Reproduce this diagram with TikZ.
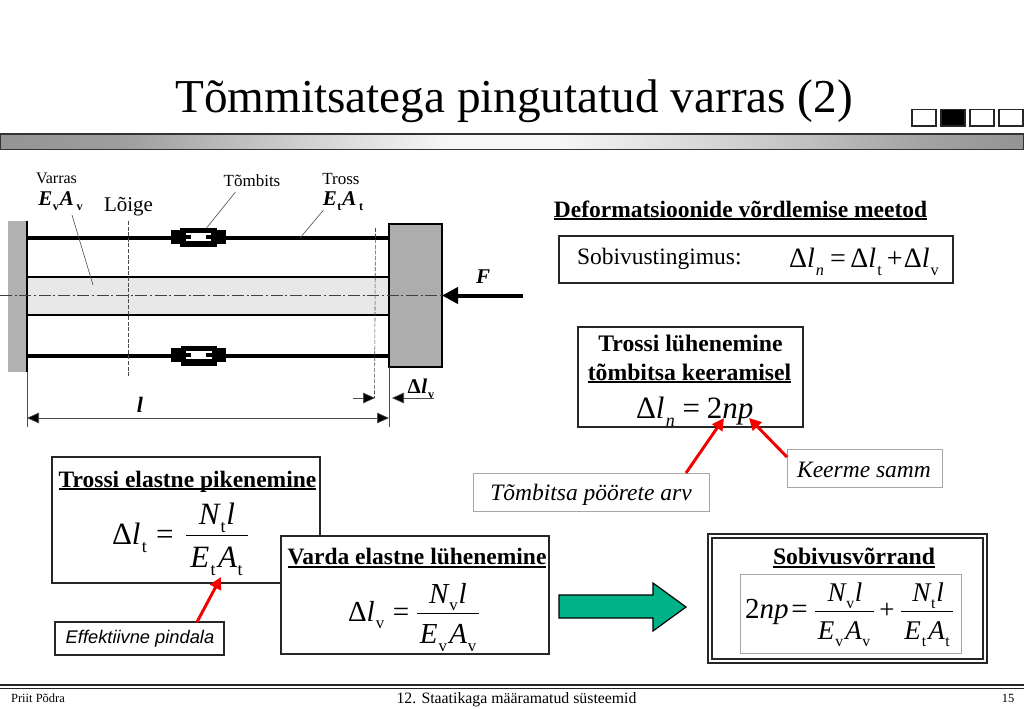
\documentclass[tikz,border=0pt]{standalone}
\usepackage{fontspec}
\usepackage{graphicx}
\setmainfont{Liberation Serif}
\newfontfamily\sansf{Liberation Sans}
\usetikzlibrary{arrows.meta,shapes.geometric}
\newcommand\px[1]{\fontsize{\fpeval{#1*.75}pt}{\fpeval{#1*.9}pt}\selectfont}
\newcommand\bx[6]{\node[#1,minimum width=\fpeval{(#4-#2)*.75}pt,minimum height=\fpeval{(#5-#3)*.75}pt] (#6) at (\fpeval{(#2+#4)/2},\fpeval{(#3+#5)/2}) {};}
\newcommand\sbs[1]{\raisebox{-.26em}{\scalebox{.58}{\upshape\mdseries #1}}}
\newcommand\bsbs[1]{\raisebox{-.26em}{\scalebox{.58}{\upshape\bfseries #1}}}
\newcommand\il[1]{{\itshape #1}}
\newsavebox\ulbox
\newcommand\ulx[1]{\leavevmode\sbox\ulbox{#1}\rlap{\rule[-.14em]{\wd\ulbox}{.09em}}\usebox\ulbox}
\definecolor{arrowgreen}{RGB}{0,178,135}
\pgfdeclarehorizontalshading{barshade}{100bp}{
  color(0bp)=(black!42); color(25bp)=(black!42); color(31bp)=(black!38);
  color(40bp)=(black!18); color(47bp)=(black!3); color(52bp)=(black!3);
  color(62bp)=(black!20); color(70bp)=(black!36); color(75bp)=(black!42); color(100bp)=(black!42)}
\tikzset{
  txt/.style={inner sep=0pt,outer sep=0pt,text=black,anchor=center},
  box/.style={draw=black!85,line width=1.1pt,fill=white,inner sep=0pt,outer sep=0pt,rectangle},
  lightbox/.style={draw=black!35,line width=.6pt,fill=white,inner sep=0pt,outer sep=0pt,rectangle},
  plain/.style={inner sep=0pt,outer sep=0pt,rectangle},
  rope/.style={line width=3pt,black},
  thin line/.style={line width=.45pt,black!70},
  centerline/.style={line width=.55pt,black!75,dash pattern=on 9pt off 2pt on 1.5pt off 2pt},
  dashline/.style={line width=.45pt,black!70,dash pattern=on 3pt off 1.2pt},
  dim/.style={line width=.45pt,black!70},
  redarrow/.style={draw=red!95!black,line width=2.2pt,-{Triangle[length=9pt,width=9pt,fill=red]}},
  rulef/.style={line width=.7pt,black},
}
\begin{document}
\begin{tikzpicture}[x=.75pt,y=-.75pt]
\useasboundingbox (0,0) rectangle (1024,709);
% title
\node[txt] (title) at (514,101) {\px{47.2}Tõmmitsatega pingutatud varras (2)};
\bx{plain,shading=barshade}{0}{134}{1024}{149.5}{bar}
\draw[line width=1.1pt,black!80] (bar.north west) rectangle (bar.south east);
\bx{box,line width=1pt}{912}{109.5}{936}{126}{nav1}
\bx{box,fill=black,line width=1pt}{941}{109.5}{965}{126}{nav2}
\bx{box,line width=1pt}{970}{109.5}{994}{126}{nav3}
\bx{box,line width=1pt}{999}{109.5}{1023}{126}{nav4}
% structure
\bx{plain,fill=black!30}{8}{221}{27}{372}{wall}
\bx{plain,fill=black!9}{27}{277}{389}{315}{rod}
\draw[line width=1.1pt] (rod.north west) -- (rod.north east);
\draw[line width=1.1pt] (rod.south west) -- (rod.south east);
\draw[line width=1.7pt] (wall.north east) -- (wall.south east);
\bx{box,fill=black!32,line width=1.7pt,draw=black}{389}{224}{442}{367}{block}
\coordinate (ropeT) at (27,238); \coordinate (ropeB) at (27,355.5);
\draw[rope] (ropeT) -- (block.west |- ropeT);
\draw[rope] (ropeB) -- (block.west |- ropeB);
% turnbuckles
\fill (171,230) rectangle (226,244.5);
\fill (180,228) rectangle (217,247);
\fill[white] (186,233) rectangle (211,241);
\fill (186,235) rectangle (191,239);
\fill (206,235) rectangle (211,239);
\fill (171,348) rectangle (226,362);
\fill (181,346) rectangle (217,366);
\fill[white] (186,351) rectangle (212,359);
\fill (186,353) rectangle (191,357);
\fill (206,353) rectangle (212,357);
% axis and dashed
\coordinate (axL) at (0,295.5);
\draw[centerline] (axL) -- (block.east |- axL);
\coordinate (cutT) at (128.5,221); \coordinate (cutB) at (128.5,376);
\draw[dashline] (cutT) -- (cutB);
\coordinate (defT) at (375.5,228); \coordinate (defB) at (374.5,398);
\draw[dashline] (defT) -- (defB);
% force
\coordinate (Ftail) at (523,295.5);
\draw[line width=3pt,-{Triangle[length=12pt,width=12pt]},black] (Ftail) -- (block.east |- Ftail);
\node[txt] (Flab) at (483,277) {\px{21}\bfseries\itshape F};
% dimensions
\coordinate (extL) at (27,427); \coordinate (extR) at (389,427);
\draw[dim] (wall.south east) -- (extL);
\draw[dim] (block.south west) -- (extR);
\coordinate (dL) at (27,418); \coordinate (dR) at (389,418);
\draw[dim,{Triangle[length=9pt,width=8pt,fill=black]}-{Triangle[length=9pt,width=8pt,fill=black]}] (dL) -- (dR);
\node[txt] (llab) at (140,405) {\px{22}\bfseries\itshape l};
\coordinate (d1a) at (353,398); \coordinate (d1b) at (375,398);
\draw[dim,-{Triangle[length=9pt,width=8pt,fill=black]}] (d1a) -- (d1b);
\coordinate (d2a) at (434,398); \coordinate (d2b) at (392,398);
\draw[dim,-{Triangle[length=9pt,width=8pt,fill=black]}] (d2a) -- (d2b);
\node[txt] (dlv) at (421,389) {\px{21}\bfseries Δ\kern.02em\il{l}\kern.05em\bsbs{v}};
% labels
\node[txt] (lvarras) at (56.5,178) {\px{16}Varras};
\node[txt] (lev) at (60.5,201) {\px{21}\bfseries\itshape E\kern.02em\bsbs{v}\kern.05em A\kern.12em\bsbs{v}};
\node[txt] (lloige) at (128.5,206.5) {\px{21}Lõige};
\node[txt] (ltomb) at (252,181) {\px{17}Tõmbits};
\node[txt] (ltross) at (341,179) {\px{17}Tross};
\node[txt] (let) at (343,201) {\px{21}\bfseries\itshape E\kern.02em\bsbs{t}\kern.05em A\kern.12em\bsbs{t}};
\coordinate (lv1) at (72,215); \coordinate (lv2) at (93,285);
\draw[thin line] (lv1) -- (lv2);
\coordinate (lt1) at (235.5,192); \coordinate (lt2) at (206.5,228);
\draw[thin line] (lt1) -- (lt2);
\coordinate (lr1) at (323.5,210); \coordinate (lr2) at (300,238);
\draw[thin line] (lr1) -- (lr2);
% right top
\node[txt] (hdef) at (740.5,210.5) {\px{23.5}\bfseries\ulx{Deformatsioonide võrdlemise meetod}};
\bx{box}{559}{236}{953}{283}{bsob}
\node[txt,anchor=west] (tsob) at (577,258.5) {\px{23.5}Sobivustingimus:};
\node[txt,anchor=west] (fsob) at (789,262) {\px{28}Δ\il{l}\kern.04em\sbs{\itshape n}\kern.22em=\kern.16em Δ\il{l}\kern.04em\sbs{t}\kern.18em+\kern.04emΔ\il{l}\kern.04em\sbs{v}};
\bx{box}{578}{327}{803}{427}{btro}
\node[txt] (ttro1) at (690.5,343.5) {\px{23.7}\bfseries Trossi lühenemine};
\node[txt] (ttro2) at (689.5,373.5) {\px{23.7}\bfseries\ulx{tõmbitsa keeramisel}};
\node[txt,anchor=west] (ftro) at (636,412) {\px{31}Δ\il{l}\kern.04em\sbs{\itshape n}\kern.25em=\kern.22em 2\il{np}};
\bx{lightbox}{473}{473}{709}{511}{bpoo}
\node[txt] (tpoo) at (591,495) {\px{23.5}\itshape Tõmbitsa pöörete arv};
\bx{lightbox}{787}{449}{942}{487}{bkee}
\node[txt] (tkee) at (864,470) {\px{23.5}\itshape Keerme samm};
\coordinate (tipN) at (724,418); \coordinate (tailN) at (686,473);
\coordinate (tipP) at (749,418); \coordinate (tailP) at (787,457);
\draw[redarrow] (tailN) -- (tipN);
\draw[redarrow] (tailP) -- (tipP);
% left box
\bx{box}{52}{457}{320}{583}{bel}
\node[txt] (tel) at (187.5,481.5) {\px{23.5}\bfseries\ulx{Trossi elastne pikenemine}};
\node[txt,anchor=west] (fel) at (112,538) {\px{31}Δ\il{l}\kern.04em\sbs{t}\kern.3em=};
\coordinate (fel1) at (186,535.5); \coordinate (fel2) at (248,535.5);
\draw[rulef] (fel1) -- (fel2);
\node[txt] (nel) at (217,518) {\px{31}\il{N}\kern.03em\sbs{t}\kern.03em\il{l}};
\node[txt] (del) at (216.5,561) {\px{31}\il{E}\kern.04em\sbs{t}\kern.08em\il{A}\kern.02em\sbs{t}};
% effective
\bx{box}{55}{622}{224}{655}{beff}
\node[txt] (teff) at (140,639) {\px{18.3}\sansf\itshape Effektiivne pindala};
\coordinate (effTip) at (221,577); \coordinate (effTail) at (197,622);
\draw[redarrow] (effTail) -- (effTip);
% varda box
\bx{box}{281}{536}{549}{654}{bva}
\node[txt] (tva) at (417,558) {\px{23.5}\bfseries\ulx{Varda elastne lühenemine}};
\node[txt,anchor=west] (fva) at (348,615) {\px{29}Δ\il{l}\kern.04em\sbs{v}\kern.3em=};
\coordinate (fva1) at (417,613.5); \coordinate (fva2) at (479,613.5);
\draw[rulef] (fva1) -- (fva2);
\node[txt] (nva) at (448,597) {\px{29}\il{N}\kern.03em\sbs{v}\kern.03em\il{l}};
\node[txt] (dva) at (448,638) {\px{29}\il{E}\kern.04em\sbs{v}\kern.08em\il{A}\kern.02em\sbs{v}};
% green arrow
\draw[line width=.9pt,black,fill=arrowgreen] (559,595) -- (653,595) -- (653,583) -- (686,607) -- (653,631) -- (653,618) -- (559,618) -- cycle;
% result box
\bx{box,line width=1.5pt}{708}{534}{987}{663}{bres}
\bx{box,line width=1.1pt,fill=none}{712}{538}{983}{659}{bres2}
\node[txt] (tres) at (854,558) {\px{23.7}\bfseries\ulx{Sobivusvõrrand}};
\bx{lightbox}{740}{574}{961}{653}{bfor}
\node[txt,anchor=west] (fres) at (745,612) {\px{29}2\il{np}\kern.1em=};
\coordinate (fr1a) at (815,611); \coordinate (fr1b) at (874,611);
\draw[rulef] (fr1a) -- (fr1b);
\node[txt] (nr1) at (845,596) {\px{27}\il{N}\kern.03em\sbs{v}\kern.03em\il{l}};
\node[txt] (dr1) at (844,634) {\px{27}\il{E}\kern.04em\sbs{v}\kern.08em\il{A}\kern.02em\sbs{v}};
\node[txt] (pr) at (887,611) {\px{27}+};
\coordinate (fr2a) at (901,611); \coordinate (fr2b) at (953,611);
\draw[rulef] (fr2a) -- (fr2b);
\node[txt] (nr2) at (928,596) {\px{27}\il{N}\kern.03em\sbs{t}\kern.03em\il{l}};
\node[txt] (dr2) at (927,634) {\px{27}\il{E}\kern.04em\sbs{t}\kern.08em\il{A}\kern.02em\sbs{t}};
% footer
\coordinate (fa) at (0,685); \coordinate (fb) at (1024,685);
\coordinate (ga) at (0,688.5); \coordinate (gb) at (1024,688.5);
\draw[line width=1.4pt,black!85] (fa) -- (fb);
\draw[line width=.6pt,black!85] (ga) -- (gb);
\node[txt] (fl) at (38,698) {\px{12.5}Priit Põdra};
\node[txt] (fc) at (516.5,699.5) {\px{15.8}12. Staatikaga määramatud süsteemid};
\node[txt] (fr) at (1008,698) {\px{12.5}15};
\end{tikzpicture}
\end{document}
